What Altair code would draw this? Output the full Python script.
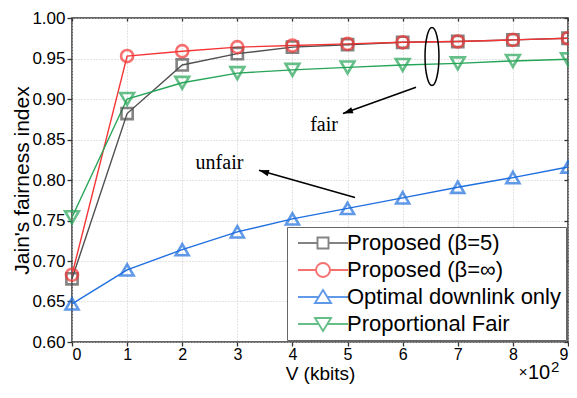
import altair as alt
import pandas as pd

# ---------------- data ----------------
V = [0, 1, 2, 3, 4, 5, 6, 7, 8, 9]
series_names = ["Proposed (β=5)", "Proposed (β=∞)", "Optimal downlink only", "Proportional Fair"]
prop_b5 = [0.678, 0.882, 0.942, 0.956, 0.964, 0.967, 0.970, 0.971, 0.973, 0.975]
prop_inf = [0.683, 0.953, 0.959, 0.964, 0.966, 0.968, 0.970, 0.971, 0.973, 0.975]
opt_dl = [0.647, 0.689, 0.714, 0.736, 0.752, 0.765, 0.778, 0.791, 0.803, 0.816]
prop_fair = [0.754, 0.900, 0.920, 0.932, 0.936, 0.939, 0.942, 0.944, 0.947, 0.949]
y_ticks = [0.60, 0.65, 0.70, 0.75, 0.80, 0.85, 0.90, 0.95, 1.00]

colors = ["#505050", "#f53535", "#1f6fe0", "#26a558"]
shapes = ["square", "circle", "triangle-up", "triangle-down"]
sizes = [125, 190, 240, 240]

# legend symbols: line with hollow marker (custom paths, unit = 5px)
legend_paths = [
    "M-1,0 L2.9,0 M5.1,0 L9,0 M2.9,-1.1 L5.1,-1.1 L5.1,1.1 L2.9,1.1 Z",
    "M-1,0 L2.6,0 M5.4,0 L9,0 M5.4,0 A1.4,1.4 0 1,1 2.6,0 A1.4,1.4 0 1,1 5.4,0 Z",
    "M-1,0 L3.14,0 M4.86,0 L9,0 M4,-1.4 L5.6,1.2 L2.4,1.2 Z",
    "M-1,0 L3.14,0 M4.86,0 L9,0 M4,1.4 L5.6,-1.2 L2.4,-1.2 Z",
]

df = pd.DataFrame({
    "V": V * 4,
    "J": prop_b5 + prop_inf + opt_dl + prop_fair,
    "Series": [n for n in series_names for _ in V],
})

FONT = "Liberation Sans"
xs = alt.Scale(domain=[0, 9], nice=False)
ys = alt.Scale(domain=[0.6, 1.0], nice=False, zero=False)

base = alt.Chart(df)

lines = base.mark_line(strokeWidth=1.4).encode(
    x=alt.X("V:Q", scale=xs, axis=alt.Axis(orient="bottom", values=V, title="V (kbits)",
                                            tickSize=4, labelPadding=0, labelFontSize=16,
                                            titleY=37.5, titleBaseline="alphabetic",
                                            titleFontSize=19)),
    y=alt.Y("J:Q", scale=ys, axis=alt.Axis(orient="left", values=y_ticks, format=".2f",
                                            title="Jain's fairness index", tickSize=5,
                                            labelPadding=2, labelFontSize=17,
                                            titleX=-44, titleY=162,
                                            titleBaseline="alphabetic")),
    color=alt.Color("Series:N", scale=alt.Scale(domain=series_names, range=colors), legend=None),
)

points = base.mark_point(filled=False, strokeWidth=2.6).encode(
    x=alt.X("V:Q", scale=xs, axis=None),
    y=alt.Y("J:Q", scale=ys, axis=None),
    color=alt.Color("Series:N", scale=alt.Scale(domain=series_names, range=colors), legend=None),
    shape=alt.Shape("Series:N", scale=alt.Scale(domain=series_names, range=shapes), legend=None),
    size=alt.Size("Series:N", scale=alt.Scale(domain=series_names, range=sizes), legend=None),
)

leg = alt.Legend(title=None, orient="none", legendX=215, legendY=209,
                 labelFont=FONT, labelFontSize=22, labelColor="black", labelOffset=33,
                 symbolSize=100, symbolStrokeWidth=1.9, rowPadding=5,
                 strokeColor="#666666", fillColor="white", padding=5, labelLimit=400)

legend_layer = base.mark_point(filled=False, strokeWidth=1.9).encode(
    x=alt.X("V:Q", scale=xs, axis=None),
    y=alt.Y("J:Q", scale=ys, axis=None),
    color=alt.Color("Series:N", scale=alt.Scale(domain=series_names, range=colors), legend=leg),
    shape=alt.Shape("Series:N", scale=alt.Scale(domain=series_names, range=legend_paths), legend=leg),
).transform_filter("false")

# mirrored inward ticks on the top and right edges
axis_layer = base.mark_point(opacity=0).encode(
    x=alt.X("V:Q", scale=xs, axis=alt.Axis(orient="top", values=V, labels=False, tickSize=3,
                                            offset=-3, grid=False, domain=False, title=None)),
    y=alt.Y("J:Q", scale=ys, axis=alt.Axis(orient="right", values=y_ticks, labels=False, tickSize=4,
                                            offset=-4, grid=False, domain=False, title=None)),
).transform_filter("false")

# ---------------- annotations ----------------
ellipse_df = pd.DataFrame({"V": [6.532], "J": [0.9525]})
ellipse = alt.Chart(ellipse_df).mark_point(
    shape="M0,-1 A0.24,1 0 1,1 0,1 A0.24,1 0 1,1 0,-1 Z",
    size=3364, filled=False, color="black", strokeWidth=1.5, opacity=1,
).encode(x=alt.X("V:Q", scale=xs, axis=None), y=alt.Y("J:Q", scale=ys, axis=None))

arrows_df = pd.DataFrame({
    "V": [6.242, 5.135], "J": [0.9145, 0.7783],
    "V2": [4.917, 3.393], "J2": [0.882, 0.812],
    "angle": [250.0, 286.5],
})
arrow_lines = alt.Chart(arrows_df).mark_rule(color="black", strokeWidth=1.5).encode(
    x=alt.X("V:Q", scale=xs, axis=None), y=alt.Y("J:Q", scale=ys, axis=None),
    x2="V2:Q", y2="J2:Q",
)
arrow_heads = alt.Chart(arrows_df).mark_point(
    shape="M0,0 L0.32,1 L-0.32,1 Z", size=400, filled=True, color="black", opacity=1,
).encode(
    x=alt.X("V2:Q", scale=xs, axis=None), y=alt.Y("J2:Q", scale=ys, axis=None),
    angle=alt.Angle("angle:Q", scale=None),
)

labels_df = pd.DataFrame({"V": [4.573, 2.676], "J": [0.8605, 0.8133], "t": ["fair", "unfair"]})
ann_text = alt.Chart(labels_df).mark_text(
    font="Liberation Serif", fontSize=20, color="black", align="center", baseline="alphabetic",
).encode(x=alt.X("V:Q", scale=xs, axis=None), y=alt.Y("J:Q", scale=ys, axis=None), text="t:N")

mult_df = pd.DataFrame({"t": ["×", "10", "2"], "px": [451, 456, 479], "py": [359, 361, 354],
                        "fs": [15, 20, 15]})
mult = alt.layer(*[
    alt.Chart(mult_df.iloc[[i]]).mark_text(font=FONT, fontSize=int(mult_df.fs[i]), color="black",
                                           align="center" if i == 0 else "left",
                                           baseline="alphabetic").encode(
        x=alt.value(int(mult_df.px[i])), y=alt.value(int(mult_df.py[i])), text="t:N")
    for i in range(3)
])

chart = alt.layer(
    lines, points, legend_layer, axis_layer, ellipse, arrow_lines, arrow_heads, ann_text, mult
).resolve_scale(
    color="independent", shape="independent"
).resolve_axis(
    x="independent", y="independent"
).properties(
    width=496, height=324,
    autosize=alt.AutoSizeParams(type="none"),
    padding={"left": 64, "top": 10, "right": 1, "bottom": 42},
).configure_view(
    stroke="#333333", strokeWidth=1.5
).configure_axis(
    labelFont=FONT, labelFontSize=18, labelColor="black",
    titleFont=FONT, titleFontSize=21, titleFontWeight="normal", titleColor="black",
    tickColor="#333333", tickWidth=1.3, domain=False,
    gridColor="#c8c8c8", gridDash=[1, 2], gridWidth=1,
)

chart.save("out.html", embed_options={"renderer": "svg", "actions": False})
